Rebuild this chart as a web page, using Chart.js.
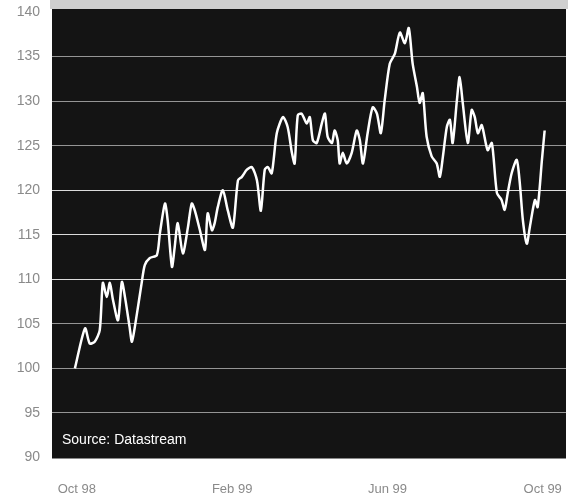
<!DOCTYPE html>
<html>
<head>
<meta charset="utf-8">
<script src="https://cdn.jsdelivr.net/npm/chart.js@4.4.0/dist/chart.umd.min.js"></script>
<style>
html,body{margin:0;padding:0;background:#ffffff;}
#wrap{position:relative;width:568px;height:497px;}
</style>
</head>
<body>
<div id="wrap"><canvas id="c" width="568" height="497"></canvas></div>
<script>
// Tick labels on the x axis (month offsets from Oct 98)
const tickLabels = ['Oct 98', 'Feb 99', 'Jun 99', 'Oct 99'];
const tickMonths = [0, 4, 8, 12];
const yTicks = [90, 95, 100, 105, 110, 115, 120, 125, 130, 135, 140];
const sourceNote = 'Source: Datastream';

// Series: time in months since Oct 98, index level
const months = [
  -0.05, 0.21, 0.33, 0.46, 0.59, 0.67, 0.77, 0.85, 0.93, 1.06,
  1.16, 1.24, 1.36, 1.42, 1.55, 1.67, 1.75, 1.88, 2.06, 2.14,
  2.27, 2.34, 2.45, 2.52, 2.60, 2.73, 2.86, 2.96, 3.04, 3.17,
  3.30, 3.37, 3.48, 3.55, 3.63, 3.76, 3.89, 4.02, 4.15, 4.25,
  4.38, 4.51, 4.64, 4.74, 4.84, 4.92, 5.02, 5.15, 5.31, 5.43,
  5.54, 5.61, 5.69, 5.79, 5.92, 6.00, 6.08, 6.18, 6.31, 6.39,
  6.46, 6.57, 6.64, 6.72, 6.77, 6.85, 6.95, 7.08, 7.21, 7.29,
  7.37, 7.49, 7.62, 7.73, 7.83, 7.93, 8.06, 8.19, 8.32, 8.45,
  8.55, 8.65, 8.76, 8.83, 8.91, 9.01, 9.14, 9.27, 9.35, 9.43,
  9.53, 9.61, 9.68, 9.79, 9.86, 9.94, 10.07, 10.17, 10.25, 10.33,
  10.43, 10.58, 10.69, 10.82, 10.94, 11.02, 11.10, 11.20, 11.33, 11.41,
  11.49, 11.59, 11.67, 11.80, 11.87, 11.98, 12.05
];
const indexValues = [
  100.0, 104.5, 102.8, 103.0, 104.3, 109.6, 108.0, 109.6, 107.7, 105.4,
  109.7, 108.0, 104.6, 103.0, 106.2, 109.6, 111.6, 112.4, 112.7, 115.2,
  118.5, 116.6, 111.4, 113.6, 116.3, 112.9, 115.8, 118.5, 117.7, 115.5,
  113.3, 117.4, 115.5, 116.3, 118.1, 120.0, 117.7, 115.8, 121.1, 121.5,
  122.3, 122.6, 121.1, 117.7, 122.3, 122.6, 121.9, 126.4, 128.2, 127.1,
  124.2, 123.0, 128.4, 128.6, 127.5, 128.2, 125.6, 125.3, 127.5, 128.6,
  126.0, 125.3, 126.7, 125.6, 123.0, 124.2, 123.0, 124.2, 126.7, 125.6,
  123.0, 126.4, 129.3, 128.6, 126.4, 130.1, 134.2, 135.3, 137.7, 136.5,
  138.2, 134.2, 131.6, 129.8, 130.9, 126.0, 123.8, 123.0, 121.5, 123.8,
  127.1, 127.9, 125.3, 130.1, 132.7, 129.8, 125.3, 129.0, 128.2, 126.4,
  127.3, 124.5, 125.3, 119.7, 118.9, 117.8, 119.7, 121.9, 123.4, 120.8,
  116.6, 114.0, 115.9, 118.9, 118.1, 123.4, 126.7
];

const points = months.map((m, i) => ({x: m, y: indexValues[i]}));

const bgPlugin = {
  id: 'bg',
  beforeDraw(chart) {
    const {ctx, chartArea: a} = chart;
    ctx.save();
    ctx.fillStyle = '#cfcfcf';
    ctx.fillRect(a.left - 2, 0, chart.width - a.left + 2, a.top - 3);
    ctx.fillStyle = '#141414';
    ctx.fillRect(a.left, a.top - 3, a.right - a.left, a.bottom - a.top + 4);
    ctx.restore();
  },
  afterDatasetsDraw(chart) {
    const {ctx, chartArea: a} = chart;
    ctx.save();
    ctx.fillStyle = '#ffffff';
    ctx.font = '14px "Liberation Sans", Arial, sans-serif';
    ctx.textBaseline = 'middle';
    ctx.fillText(sourceNote, a.left + 10, a.bottom - 17);
    ctx.restore();
  }
};

new Chart(document.getElementById('c'), {
  type: 'line',
  data: {
    datasets: [{
      data: points,
      borderColor: '#ffffff',
      borderWidth: 2.5,
      pointRadius: 0,
      tension: 0.25,
      fill: false
    }]
  },
  options: {
    responsive: false,
    animation: false,
    events: [],
    layout: {padding: {top: 12, right: 2, left: 0, bottom: 0}},
    plugins: {legend: {display: false}, tooltip: {enabled: false}},
    scales: {
      x: {
        type: 'linear',
        min: -0.64,
        max: 12.6,
        afterBuildTicks(scale) { scale.ticks = tickMonths.map(v => ({value: v})); },
        afterFit(scale) { scale.height = 39.5; scale.paddingLeft = 0; scale.paddingRight = 0; },
        border: {display: false},
        grid: {display: false, drawTicks: false},
        ticks: {
          autoSkip: false,
          maxRotation: 0,
          padding: 24,
          color: '#8a8a8a',
          font: {size: 13, family: '"Liberation Sans", Arial, sans-serif'},
          callback(v) { const i = tickMonths.indexOf(v); return i >= 0 ? tickLabels[i] : ''; }
        }
      },
      y: {
        min: 90,
        max: 140,
        afterBuildTicks(scale) { scale.ticks = yTicks.map(v => ({value: v})); },
        afterFit(scale) { scale.width = 52; scale.paddingTop = 0; scale.paddingBottom = 0; },
        border: {display: false},
        grid: {
          drawTicks: false,
          color(ctx) {
            const v = ctx.tick && ctx.tick.value;
            if (v === 90 || v === 140) return 'rgba(0,0,0,0)';
            if (v >= 110 && v <= 120) return 'rgba(255,255,255,0.85)';
            return 'rgba(255,255,255,0.55)';
          },
          lineWidth: 1
        },
        ticks: {
          padding: 12,
          color: '#8a8a8a',
          font: {size: 14, family: '"Liberation Sans", Arial, sans-serif'}
        }
      }
    }
  },
  plugins: [bgPlugin]
});
</script>
</body>
</html>
